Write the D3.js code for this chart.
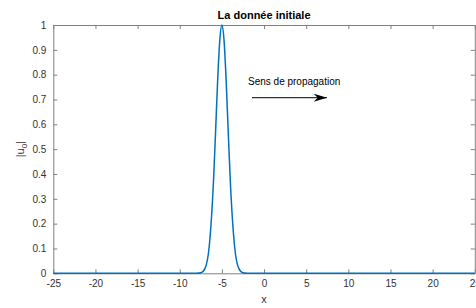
<!DOCTYPE html>
<meta charset="utf-8">
<script src="https://d3js.org/d3.v7.min.js"></script>
<style>
  body { margin: 0; background: #fff; }
  text { font-family: "Liberation Sans", Arial, sans-serif; }
</style>
<svg id="chart" width="476" height="308"></svg>
<script>

// values
var xs = [-25, -8, -7.5, -7, -6.5, -6, -5.75, -5.5, -5.25, -5, -4.75, -4.5, -4.25, -4, -3.5, -3, -2.5, -2, 25];
var us = [0, 0, 0.002, 0.02, 0.11, 0.37, 0.57, 0.78, 0.94, 1, 0.94, 0.78, 0.57, 0.37, 0.11, 0.02, 0.002, 0, 0];

var xTicks = [-25, -20, -15, -10, -5, 0, 5, 10, 15, 20, 25];
var yTicks = [0, 0.1, 0.2, 0.3, 0.4, 0.5, 0.6, 0.7, 0.8, 0.9, 1];

var svg = d3.select("svg"),
    mLeft = 53.3, mRight = 474.8, mTop = 25, mBottom = 273.3;

var x = d3.scaleLinear().domain([-25, 25]).range([mLeft, mRight]);
var y = d3.scaleLinear().domain([0, 1]).range([mBottom, mTop]);

var axisColor = "#808080",
    textColor = "#333333";
var plain = function(d){ return String(d) };

// curve
var line = d3.line()
    .x(function(d, i){ return x(xs[i]) })
    .y(function(d, i){ return y(us[i]) })
    .curve(d3.curveMonotoneX);

// axes
function styleAxis(g) {
  g.select(".domain").attr("stroke", axisColor).attr("stroke-width", 1);
  g.selectAll(".tick line").attr("stroke", axisColor);
  g.selectAll(".tick text").attr("fill", textColor).style("font-size", "10px");
}

svg.append("g")
    .attr("transform", "translate(0," + mBottom + ")")
    .call(d3.axisBottom(x).tickValues(xTicks).tickSizeInner(-4).tickSizeOuter(0).tickPadding(7).tickFormat(plain))
    .call(styleAxis);

svg.append("g")
    .attr("transform", "translate(0," + mTop + ")")
    .call(d3.axisTop(x).tickValues(xTicks).tickSizeInner(-4).tickSizeOuter(0).tickFormat(""))
    .call(styleAxis);

svg.append("g")
    .attr("transform", "translate(" + mLeft + ",0)")
    .call(d3.axisLeft(y).tickValues(yTicks).tickSizeInner(-4).tickSizeOuter(0).tickPadding(7).tickFormat(plain))
    .call(styleAxis);

svg.append("g")
    .attr("transform", "translate(" + mRight + ",0)")
    .call(d3.axisRight(y).tickValues(yTicks).tickSizeInner(-4).tickSizeOuter(0).tickFormat(""))
    .call(styleAxis);

svg.append("path")
    .datum(xs)
    .attr("d", line)
    .style("fill", "none")
    .style("stroke", "#0072BD")
    .style("stroke-width", 1.5);

// title and labels
svg.append("text")
    .attr("x", (mLeft + mRight) / 2)
    .attr("y", 19)
    .attr("text-anchor", "middle")
    .style("font-size", "11px")
    .style("font-weight", "bold")
    .attr("fill", "#000")
    .text("La donnée initiale");

svg.append("text")
    .attr("x", (mLeft + mRight) / 2)
    .attr("y", 303)
    .attr("text-anchor", "middle")
    .style("font-size", "11px")
    .attr("fill", textColor)
    .text("x");

var ylab = svg.append("text")
    .attr("transform", "translate(24," + (mTop + mBottom) / 2 + ") rotate(-90)")
    .attr("text-anchor", "middle")
    .style("font-size", "11px")
    .attr("fill", textColor);
ylab.append("tspan").text("|u");
ylab.append("tspan").attr("dy", 3).style("font-size", "8px").text("0");
ylab.append("tspan").attr("dy", -3).text("|");

// annotation
svg.append("text")
    .attr("x", 248)
    .attr("y", 85)
    .style("font-size", "10px")
    .attr("fill", "#000")
    .text("Sens de propagation");

svg.append("defs").append("marker")
    .attr("id", "head")
    .attr("viewBox", "0 0 10 6")
    .attr("refX", 10).attr("refY", 3)
    .attr("markerWidth", 14).attr("markerHeight", 8)
    .attr("markerUnits", "userSpaceOnUse")
    .attr("orient", "auto")
  .append("path")
    .attr("d", "M0,0 L10,3 L0,6 L3,3 Z")
    .attr("fill", "#000");

svg.append("line")
    .attr("x1", 252).attr("y1", 97.7)
    .attr("x2", 327).attr("y2", 97.7)
    .attr("stroke", "#000")
    .attr("stroke-width", 1)
    .attr("marker-end", "url(#head)");

</script>
